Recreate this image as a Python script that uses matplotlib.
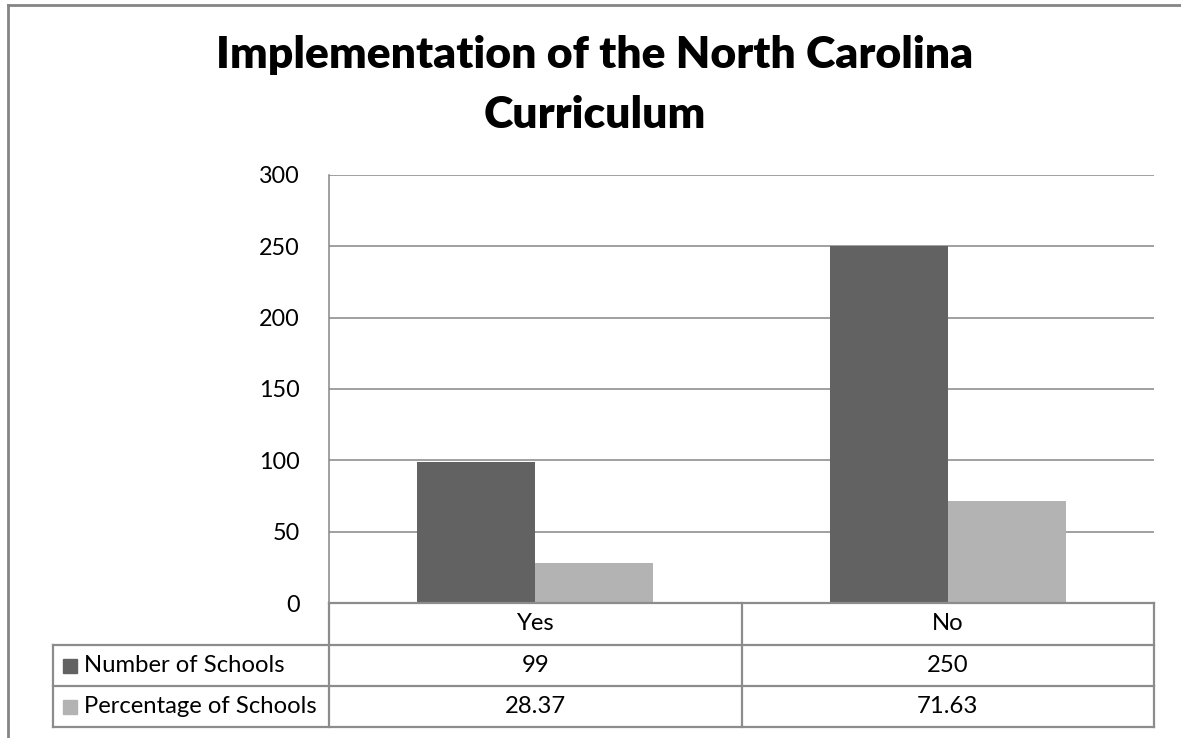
import matplotlib
matplotlib.use("Agg")
import matplotlib.pyplot as plt
from matplotlib.lines import Line2D
from matplotlib.patches import Rectangle
import matplotlib.transforms as mtransforms

categories = ["Yes", "No"]
series_names = ["Number of Schools", "Percentage of Schools"]
number_of_schools = [99, 250]
percentage_of_schools = [28.37, 71.63]
table_labels_number = ["99", "250"]
table_labels_percent = ["28.37", "71.63"]
yticks = [0, 50, 100, 150, 200, 250, 300]
title_lines = ["Implementation of the North Carolina", "Curriculum"]

W, H = 1181, 738
fig = plt.figure(figsize=(W / 100, H / 100), dpi=100)
fig.patch.set_facecolor("white")

FONT = "Lato"
dark = "#626262"
light = "#b3b3b3"
gridc = "#868686"

def fx(px):
    return px / W

def fy(py):
    return 1 - py / H

ax_l, ax_r, ax_t, ax_b = 329, 1154, 175, 603
ax = fig.add_axes([fx(ax_l), fy(ax_b), fx(ax_r) - fx(ax_l), (ax_b - ax_t) / H])

n = len(categories)
xs = list(range(n))
bw = 1 / 3.5
ax.bar([x - bw / 2 for x in xs], number_of_schools, width=bw, color=dark, zorder=3)
ax.bar([x + bw / 2 for x in xs], percentage_of_schools, width=bw, color=light, zorder=3)
ax.set_xlim(-0.5, n - 0.5)
ax.set_ylim(0, 300)
ax.set_yticks(yticks)
ax.set_yticklabels([str(v) for v in yticks], fontfamily=FONT, fontsize=16.8)
ax.tick_params(axis="y", length=0, pad=21)
ax.set_xticks([])
ax.yaxis.grid(True, color=gridc, linewidth=1.1, zorder=0)
for s in ["top", "right", "bottom"]:
    ax.spines[s].set_visible(False)
ax.spines["left"].set_color(gridc)
ax.spines["left"].set_linewidth(1.1)

# Data table below the axis
trans = mtransforms.blended_transform_factory(ax.transData, fig.transFigure)
row_y = [603, 645, 686, 727]
tbl_left = 52.5
lc = "#8c8c8c"
lw = 1.6
fig.add_artist(Line2D([fx(ax_l), fx(ax_r)], [fy(row_y[0])] * 2, color=lc, lw=lw))
for yy in row_y[1:]:
    fig.add_artist(Line2D([fx(tbl_left), fx(ax_r)], [fy(yy)] * 2, color=lc, lw=lw))
fig.add_artist(Line2D([fx(tbl_left)] * 2, [fy(row_y[1]), fy(row_y[3])], color=lc, lw=lw))
for b in [-0.5 + i for i in range(n + 1)]:
    fig.add_artist(Line2D([b, b], [fy(row_y[0]), fy(row_y[3])], color=lc, lw=lw,
                          transform=trans))

tfs = 17.2
for i, c in enumerate(categories):
    fig.text(i, fy((row_y[0] + row_y[1]) / 2), c, transform=trans, ha="center",
             va="center", fontfamily=FONT, fontsize=tfs)
    fig.text(i, fy((row_y[1] + row_y[2]) / 2), table_labels_number[i], transform=trans,
             ha="center", va="center", fontfamily=FONT, fontsize=tfs)
    fig.text(i, fy((row_y[2] + row_y[3]) / 2), table_labels_percent[i], transform=trans,
             ha="center", va="center", fontfamily=FONT, fontsize=tfs)

for k, (name, col) in enumerate(zip(series_names, [dark, light])):
    yc = (row_y[k + 1] + row_y[k + 2]) / 2
    fig.add_artist(Rectangle((fx(63), fy(yc + 7)), 14 / W, 14 / H, color=col,
                             transform=fig.transFigure))
    fig.text(fx(84), fy(yc), name, ha="left", va="center", fontfamily=FONT, fontsize=tfs)

# Title (two lines, baselines placed to match)
for line, base in zip(title_lines, [68, 128]):
    fig.text(fx(595), fy(base), line, ha="center", va="baseline", fontfamily=FONT,
             fontweight="heavy", fontsize=32)

# outer chart border (top and left visible)
fig.add_artist(Line2D([fx(7.5), 1], [fy(4.5)] * 2, color="#858585", lw=2))
fig.add_artist(Line2D([fx(7.5)] * 2, [fy(4.5), 0], color="#858585", lw=2))

fig.savefig("out.png", dpi=100, facecolor="white")
